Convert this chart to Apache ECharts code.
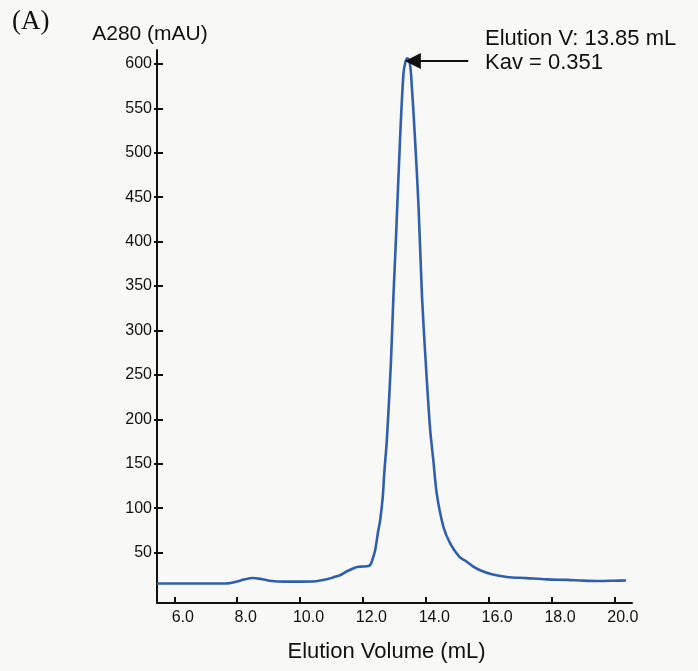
<!DOCTYPE html>
<html>
<head>
<meta charset="utf-8">
<script src="https://cdn.jsdelivr.net/npm/echarts@6/dist/echarts.min.js"></script>
<style>
html,body{margin:0;padding:0;background:#f8f8f6;}
#chart{width:698px;height:671px;}
</style>
</head>
<body>
<div id="chart"></div>
<script>
// ---- data ----
const elutionVolume = [5.45, 6.0, 7.0, 7.6, 7.8, 8.0, 8.2, 8.5, 8.8, 9.1, 9.5, 10.0, 10.5, 10.85, 11.05, 11.27, 11.49, 11.69, 11.81, 12.0, 12.18, 12.25, 12.33, 12.39, 12.49, 12.55, 12.63, 12.68, 12.76, 12.89, 12.97, 13.05, 13.18, 13.29, 13.36, 13.42, 13.48, 13.53, 13.66, 13.77, 13.88, 14.0, 14.14, 14.24, 14.35, 14.56, 14.78, 15.07, 15.25, 15.5, 15.73, 16.1, 16.58, 17.2, 17.85, 18.5, 19.0, 19.44, 20.0, 20.37];
const a280 = [15.1, 15.1, 15.1, 15.2, 15.8, 17.5, 19.5, 21.4, 20.0, 18.0, 17.3, 17.3, 17.7, 19.9, 22.0, 24.5, 28.9, 32.0, 33.8, 34.2, 34.8, 37, 45, 52.6, 75, 86.4, 112, 140, 176, 263, 338, 402, 514, 589, 603, 606.3, 603, 589, 514, 439, 338, 263, 188, 154, 116, 79, 60, 45, 41, 34.5, 30.1, 25.5, 22.5, 21.2, 19.8, 19.2, 18.4, 18.0, 18.3, 18.6];
const xTicks = [6, 8, 10, 12, 14, 16, 18, 20];
const yTicks = [50, 100, 150, 200, 250, 300, 350, 400, 450, 500, 550, 600];
const annotationLines = ['Elution V: 13.85 mL', 'Kav = 0.351'];
const arrowFrom = [15.35, 603.3];
const arrowTo = [13.59, 603.3];

const xMin = 5.45, xMax = 20.56, yMin = -6.8, yMax = 615.6;
const seriesData = elutionVolume.map((v, i) => [v, a280[i]]);

const chart = echarts.init(document.getElementById('chart'));
const axisColor = '#111';
chart.setOption({
  backgroundColor: '#f8f8f6',
  animation: false,
  grid: {left: 157, right: 66, top: 50, bottom: 68},
  xAxis: [{
    type: 'value', min: xMin, max: xMax,
    position: 'bottom',
    name: 'Elution Volume (mL)', nameLocation: 'middle', nameGap: 49,
    nameTextStyle: {fontFamily: 'Liberation Sans, Arial', fontSize: 22, color: '#111', verticalAlign: 'middle', padding: [0, 16, 0, 0]},
    axisLine: {show: true, onZero: false, lineStyle: {color: axisColor, width: 2}},
    axisTick: {show: true, inside: true, length: 6, customValues: xTicks, lineStyle: {color: axisColor, width: 2}},
    axisLabel: {customValues: xTicks, formatter: v => v.toFixed(1), fontFamily: 'Liberation Sans, Arial', fontSize: 16, color: '#111', margin: 7, padding: [0, 0, 0, 17]},
    splitLine: {show: false}
  }, {
    type: 'value', min: xMin, max: xMax, position: 'bottom',
    axisLine: {show: false},
    axisTick: {show: true, inside: false, length: 4, customValues: xTicks, lineStyle: {color: axisColor, width: 2}},
    axisLabel: {show: false}, splitLine: {show: false}
  }],
  yAxis: [{
    type: 'value', min: yMin, max: yMax, position: 'left',
    name: 'A280 (mAU)', nameLocation: 'end', nameGap: 16,
    nameTextStyle: {fontFamily: 'Liberation Sans, Arial', fontSize: 21, color: '#111', align: 'center', verticalAlign: 'middle', padding: [0, 14, 0, 0]},
    axisLine: {show: true, onZero: false, lineStyle: {color: axisColor, width: 2}},
    axisTick: {show: true, inside: true, length: 6, customValues: yTicks, lineStyle: {color: axisColor, width: 2}},
    axisLabel: {customValues: yTicks, fontFamily: 'Liberation Sans, Arial', fontSize: 16, color: '#111', margin: 5},
    splitLine: {show: false}
  }, {
    type: 'value', min: yMin, max: yMax, position: 'left',
    axisLine: {show: false},
    axisTick: {show: true, inside: false, length: 3, customValues: yTicks, lineStyle: {color: axisColor, width: 2}},
    axisLabel: {show: false}, splitLine: {show: false}
  }],
  series: [{
    type: 'line',
    data: seriesData,
    showSymbol: false,
    smooth: 0.3,
    lineStyle: {color: '#2f5fad', width: 2.6},
    markLine: {
      silent: true,
      symbol: ['none', 'triangle'],
      symbolSize: 16,
      label: {show: false},
      lineStyle: {color: '#111', width: 2, type: 'solid'},
      data: [[{coord: arrowFrom}, {coord: arrowTo}]]
    }
  }],
  graphic: [
    {type: 'text', left: 12, top: 8, style: {text: '(A)', font: '27px "Liberation Serif", "Times New Roman", serif', fill: '#111'}},
    {type: 'text', left: 485, top: 28, style: {text: annotationLines[0], font: '22px "Liberation Sans", Arial, sans-serif', fill: '#111'}},
    {type: 'text', left: 485, top: 52, style: {text: annotationLines[1], font: '22px "Liberation Sans", Arial, sans-serif', fill: '#111'}}
  ]
});
</script>
</body>
</html>
